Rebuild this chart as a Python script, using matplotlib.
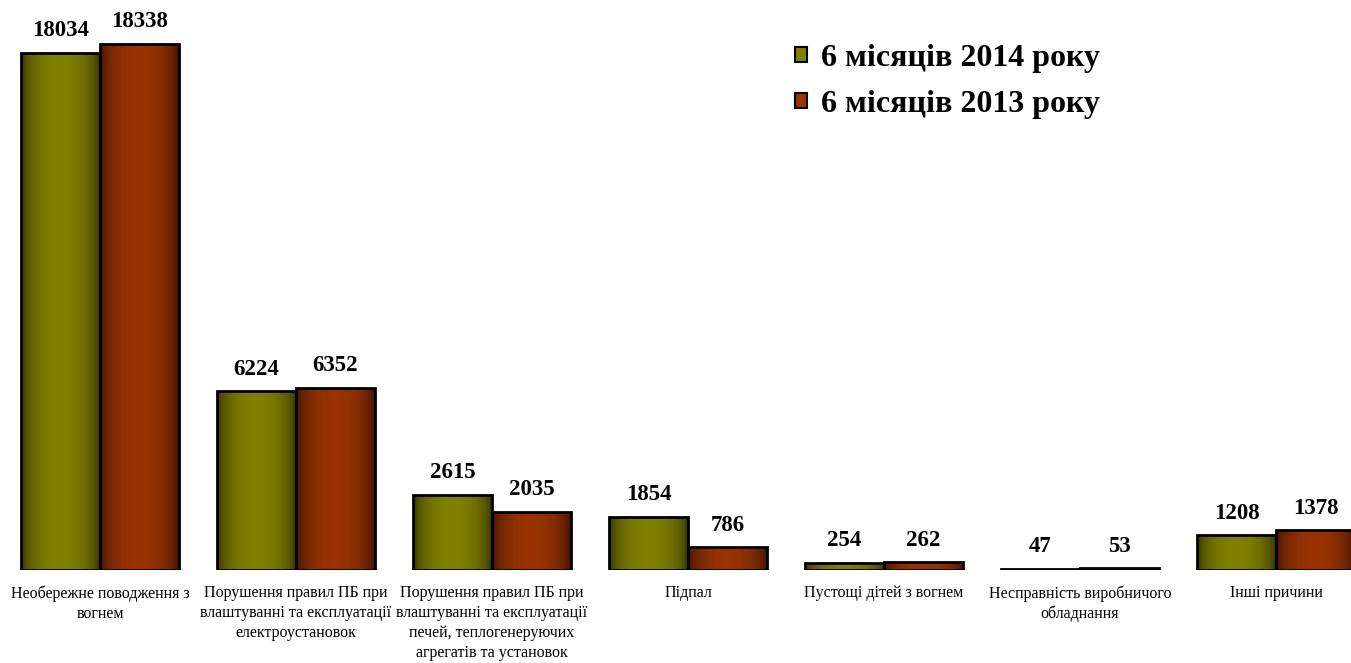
import numpy as np
import matplotlib.pyplot as plt
from matplotlib.patches import Patch
from matplotlib.colors import to_rgb

# дані
categories = ['Необережне поводження з\nвогнем',
              'Порушення правил ПБ при\nвлаштуванні та експлуатації\nелектроустановок',
              'Порушення правил ПБ при\nвлаштуванні та експлуатації\nпечей, теплогенеруючих\nагрегатів та установок',
              'Підпал',
              'Пустощі дітей з вогнем',
              'Несправність виробничого\nобладнання',
              'Інші причини']
v2014 = [18034, 6224, 2615, 1854, 254, 47, 1208]
v2013 = [18338, 6352, 2035, 786, 262, 53, 1378]
series_names = ['6 місяців 2014 року', '6 місяців 2013 року']

plt.rcParams['font.family'] = ['Liberation Serif', 'DejaVu Serif']

c14 = '#808000'
c13 = '#993300'

fig = plt.figure(figsize=(13.51, 6.63), dpi=100)
ax = fig.add_axes([0, 93/663, 1, 570/663])

x = np.arange(len(categories))
w = 0.403


def gradient(color):
    t = np.linspace(0, 1, 64)
    f = np.sin(np.pi * t) ** 0.5
    br = np.array(to_rgb(color))
    dk = br * 0.35
    img = dk[None, :] + (br - dk)[None, :] * f[:, None]
    return img[None, :, :]


bars1 = ax.bar(x - w/2, v2014, w, facecolor='none', edgecolor='black', linewidth=2, zorder=3)
bars2 = ax.bar(x + w/2, v2013, w, facecolor='none', edgecolor='black', linewidth=2, zorder=3)

for bars, col in [(bars1, c14), (bars2, c13)]:
    g = gradient(col)
    for b in bars:
        x0, y0 = b.get_x(), b.get_y()
        im = ax.imshow(g, extent=[x0, x0 + b.get_width(), y0, y0 + b.get_height()],
                       aspect='auto', zorder=2, interpolation='bilinear')
        im.set_clip_path(b)
        v = b.get_height()
        ax.annotate(str(int(v)), (x0 + b.get_width()/2, v),
                    xytext=(0, 12), textcoords='offset points',
                    ha='center', va='baseline', fontsize=16.5, fontweight='bold')

ax.set_xlim(-100/196, 1251/196)
ax.set_ylim(0, 570/0.02868)
ax.set_xticks(x)
ax.set_xticklabels(categories, fontsize=11.5, linespacing=1.33)
ax.tick_params(axis='x', length=0, pad=11)
ax.set_yticks([])
for s in ax.spines.values():
    s.set_visible(False)

handles = [Patch(facecolor=c14, edgecolor='black', linewidth=1.5),
           Patch(facecolor=c13, edgecolor='black', linewidth=1.5)]
fig.legend(handles, series_names, loc='upper left', bbox_to_anchor=(795/1351, 1 - 44/663),
           frameon=False, prop={'size': 23, 'weight': 'bold'},
           handlelength=0.36, handleheight=0.36, handletextpad=0.45,
           labelspacing=0.52, borderpad=0, borderaxespad=0)

fig.savefig('out.png', dpi=100)
